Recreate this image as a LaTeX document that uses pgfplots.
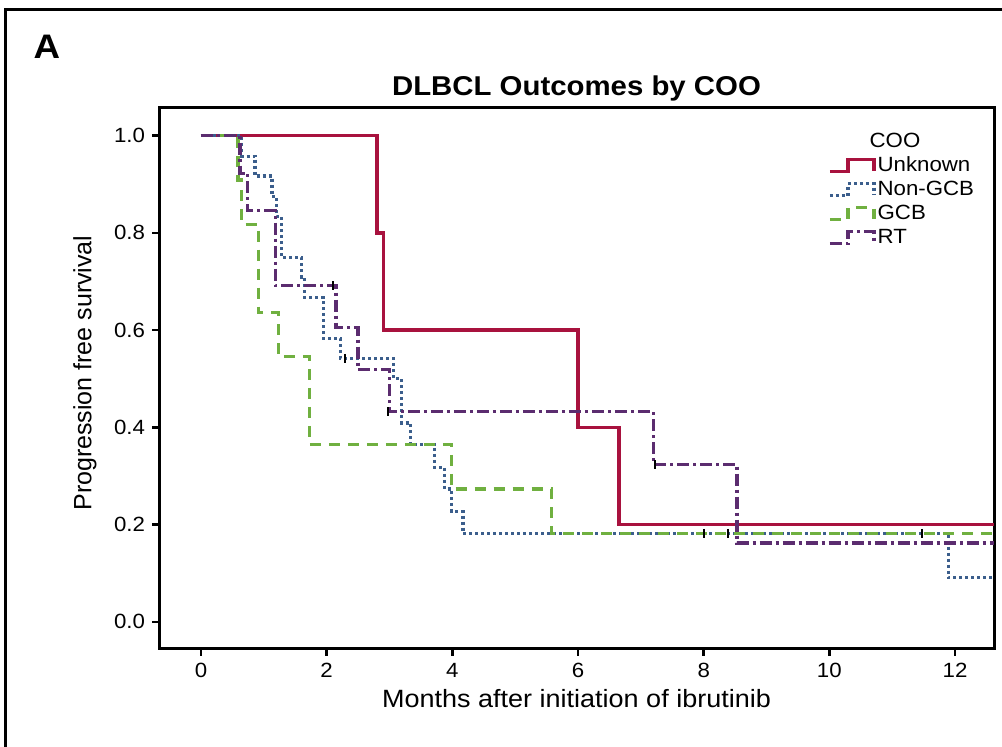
\documentclass[border=0pt]{standalone}
\usepackage{pgfplots}
\pgfplotsset{compat=1.18}
\usepackage{fontspec}
\setmainfont{Liberation Sans}[FakeStretch=1.08]
\newfontfamily\ylabfont{Liberation Sans}
\definecolor{cUnk}{HTML}{A8123E}
\definecolor{cNon}{HTML}{3B5E8C}
\definecolor{cGCB}{HTML}{70B040}
\definecolor{cRT}{HTML}{5B2C6F}
\begin{document}
\begin{tikzpicture}[x=1pt,y=1pt]
\useasboundingbox (0,0) rectangle (501,373.5);
\clip (0,0) rectangle (501,373.5);
\draw[line width=1.5pt] (2.5,-20) -- (2.5,368.5) -- (530,368.5);
\node[font=\fontsize{17}{20}\selectfont\bfseries] at (23.5,350) {A};
\begin{axis}[
  scale only axis, width=417.5pt, height=270.5pt,
  at={(79.5pt,49pt)}, anchor=south west,
  xmin=-0.668, xmax=12.62, ymin=-0.056, ymax=1.057,
  axis line style={line width=1.5pt},
  xtick={0,2,4,6,8,10,12}, ytick={0,0.2,0.4,0.6,0.8,1.0},
  yticklabel style={/pgf/number format/.cd, fixed, fixed zerofill, precision=1},
  tick align=outside, xtick pos=bottom, ytick pos=left,
  major tick length=3.5pt, tick style={line width=1.2pt, black},
  ticklabel style={font=\fontsize{10.3}{12}\selectfont},
  /pgf/number format/assume math mode=true,
  every axis title shift=0pt,
  title={\textbf{DLBCL Outcomes by COO}},
  title style={at={(0.5,1)}, anchor=base, yshift=6pt, font=\fontsize{13.6}{16}\selectfont},
  xlabel={Months after initiation of ibrutinib},
  xlabel style={at={(axis description cs:0.5,0)}, anchor=base, yshift=-29.5pt, font=\fontsize{12.5}{15}\selectfont},
  ylabel={\ylabfont Progression free survival},
  ylabel style={at={(axis description cs:-0.0886,0.51)}, anchor=center, font=\fontsize{12.5}{15}\selectfont},
  legend image code/.code={\draw[#1] (0pt,-2.5pt) -- (9pt,-2.5pt) -- (9pt,3.5pt) -- (22pt,3.5pt) -- (22pt,-2pt);},
  legend style={at={(rel axis cs:0.801,0.959)}, anchor=north west, draw=none, fill=none,
    inner sep=0pt, font=\fontsize{10.3}{12}\selectfont,
    nodes={inner sep=1pt, text height=7.5pt, text depth=2.5pt}},
  legend cell align=left,
]
\addlegendimage{empty legend}
\addlegendentry{\hspace*{-4pt}COO}
\addplot[const plot, cUnk, line width=1.7pt] coordinates {
 (0,1) (2.8,0.8) (2.9,0.6) (6.0,0.4) (6.65,0.2) (12.62,0.2)};
\addlegendentry{Unknown}
\addplot[const plot, cNon, line width=1.6pt, dash pattern=on 1.5pt off 1.5pt] coordinates {
 (0,1) (0.65,0.958) (0.86,0.917) (1.13,0.875) (1.2,0.833) (1.28,0.75) (1.6,0.708)
 (1.65,0.667) (1.95,0.583) (2.22,0.542) (3.06,0.5) (3.19,0.409) (3.33,0.364)
 (3.72,0.318) (3.88,0.273) (3.99,0.227) (4.17,0.182) (11.89,0.091) (12.62,0.091)};
\addlegendentry{Non-GCB}
\addplot[const plot, cGCB, line width=1.6pt, dash pattern=on 5.5pt off 4pt] coordinates {
 (0,1) (0.59,0.909) (0.65,0.818) (0.91,0.636) (1.23,0.545) (1.73,0.364)
 (3.99,0.273) (5.58,0.182) (12.62,0.182)};
\addlegendentry{GCB}
\addplot[const plot, cRT, line width=1.6pt, dash pattern=on 6pt off 2pt on 1.5pt off 2pt] coordinates {
 (0,1) (0.62,0.923) (0.74,0.846) (1.18,0.692) (2.15,0.605) (2.5,0.519) (3.0,0.432)
 (7.2,0.324) (8.53,0.162) (12.62,0.162)};
\addlegendentry{RT}
\addplot[only marks, mark=|, mark size=2.2pt, black, mark options={line width=1pt}, forget plot] coordinates {
 (2.1,0.692) (2.98,0.432) (7.22,0.324) (2.29,0.542) (8.0,0.182) (8.39,0.182) (11.47,0.182)};
\end{axis}
\end{tikzpicture}
\end{document}
